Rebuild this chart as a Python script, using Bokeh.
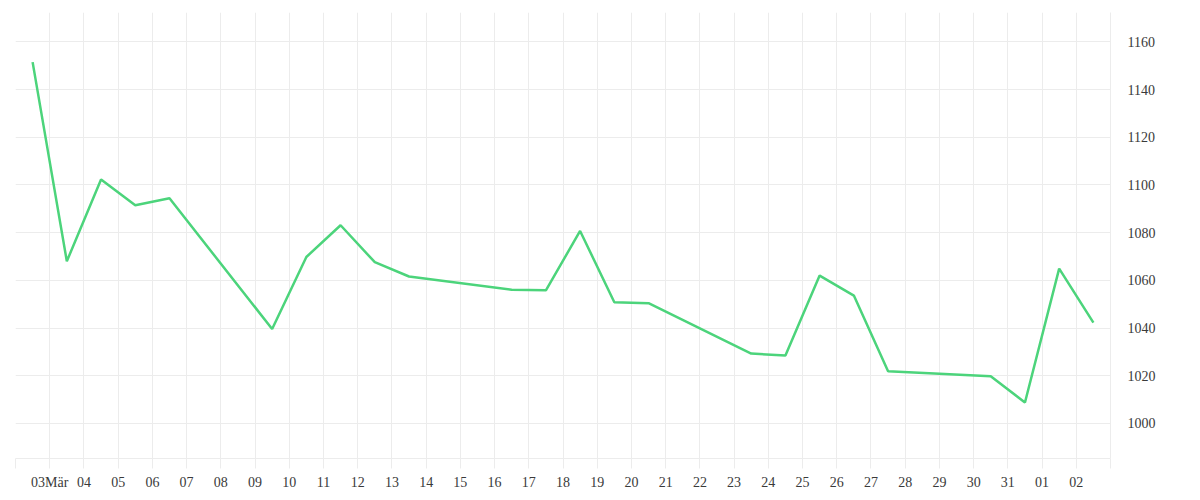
from datetime import datetime, timedelta
from bokeh.plotting import figure
from bokeh.models import Range1d, FixedTicker, LinearAxis, ColumnDataSource
from bokeh.embed import file_html
from bokeh.resources import INLINE

# ---- data ----
dates = [
    "2020-03-02", "2020-03-03", "2020-03-04", "2020-03-05", "2020-03-06",
    "2020-03-09", "2020-03-10", "2020-03-11", "2020-03-12", "2020-03-13",
    "2020-03-16", "2020-03-17", "2020-03-18", "2020-03-19", "2020-03-20",
    "2020-03-23", "2020-03-24", "2020-03-25", "2020-03-26", "2020-03-27",
    "2020-03-30", "2020-03-31", "2020-04-01", "2020-04-02",
]
values = [
    1151.5, 1068.0, 1102.3, 1091.5, 1094.4,
    1039.6, 1069.8, 1083.1, 1067.6, 1061.6,
    1056.1, 1055.8, 1080.7, 1050.8, 1050.4,
    1029.3, 1028.5, 1062.0, 1053.6, 1021.9,
    1019.8, 1008.8, 1064.9, 1042.3,
]
tick_days = ["2020-03-%02d" % d for d in range(2, 32)] + ["2020-04-01", "2020-04-02", "2020-04-03"]
tick_labels = [""] + ["03Mär"] + ["%02d" % d for d in range(4, 32)] + ["01", "02", ""]
y_ticks = [1000, 1020, 1040, 1060, 1080, 1100, 1120, 1140, 1160]

FONT = "Liberation Serif"
GRID = "#ececec"
TEXT = "#3a3a3a"
LINE = "#4cd47b"

EPOCH = datetime(1970, 1, 1)
def ms(d):
    return (d - EPOCH).total_seconds() * 1000.0

xs = [datetime.strptime(d, "%Y-%m-%d") + timedelta(hours=12) for d in dates]
src = ColumnDataSource(dict(x=xs, y=values))

tick_ms = [ms(datetime.strptime(d, "%Y-%m-%d")) for d in tick_days]

p = figure(
    width=1200, height=500, x_axis_type="datetime",
    output_backend="svg", toolbar_location=None,
    x_range=Range1d(datetime(2020, 3, 2), datetime(2020, 4, 3)),
    y_range=Range1d(985.3, 1172.3),
    y_axis_location=None,
    min_border_left=15, min_border_top=12, min_border_right=90, min_border_bottom=42,
)
p.outline_line_color = None
p.background_fill_color = "white"
p.border_fill_color = "white"

p.line("x", "y", source=src, line_color=LINE, line_width=2.5)

# x axis
xa = p.xaxis[0]
xa.ticker = FixedTicker(ticks=tick_ms)
xa.major_label_overrides = {t: l for t, l in zip(tick_ms, tick_labels)}
xa.axis_line_color = GRID
xa.major_tick_line_color = GRID
xa.major_tick_out = 10
xa.major_tick_in = 0
xa.minor_tick_line_color = None
xa.major_label_standoff = 6
xa.major_label_text_font = FONT
xa.major_label_text_font_size = "14px"
xa.major_label_text_color = TEXT

# y axis on the right
ya = LinearAxis(ticker=FixedTicker(ticks=y_ticks))
ya.axis_line_color = GRID
ya.major_tick_line_color = None
ya.major_tick_out = 0
ya.major_tick_in = 0
ya.minor_tick_line_color = None
ya.major_label_standoff = 17
ya.major_label_text_font = FONT
ya.major_label_text_font_size = "14px"
ya.major_label_text_color = TEXT
p.add_layout(ya, "right")

p.xgrid.grid_line_color = GRID
p.ygrid.grid_line_color = GRID
p.ygrid.ticker = FixedTicker(ticks=y_ticks)
p.xgrid.ticker = FixedTicker(ticks=tick_ms)

open("out.html", "w").write(file_html(p, INLINE))
